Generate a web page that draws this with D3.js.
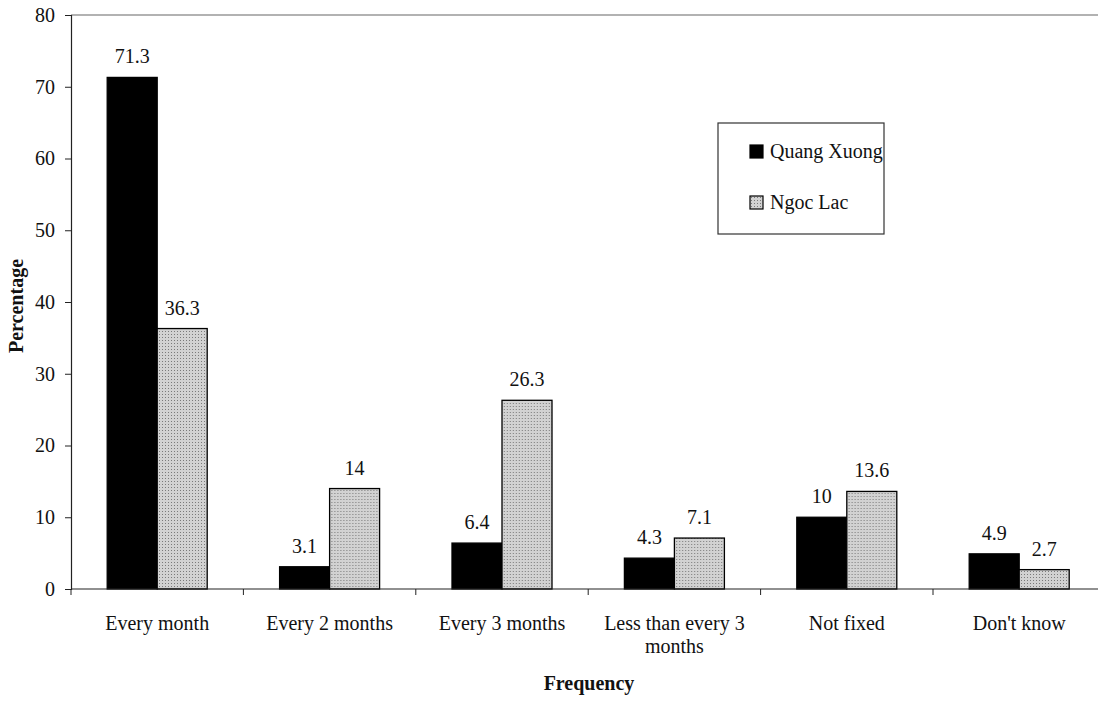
<!DOCTYPE html>
<html>
<head>
<meta charset="utf-8">
<script src="https://cdn.jsdelivr.net/npm/d3@7"></script>
<style>
  body { margin: 0; background: #fff; }
  svg text { font-family: "Liberation Serif", "DejaVu Serif", serif; fill: #111; }
</style>
</head>
<body>
<div id="chart"></div>
<script>
// data
const categories = ["Every month", "Every 2 months", "Every 3 months", "Less than every 3 months", "Not fixed", "Don't know"];
const seriesNames = ["Quang Xuong", "Ngoc Lac"];
const quangXuong = [71.3, 3.1, 6.4, 4.3, 10, 4.9];
const ngocLac = [36.3, 14, 26.3, 7.1, 13.6, 2.7];
const yTicks = [0, 10, 20, 30, 40, 50, 60, 70, 80];

const width = 1098, height = 702;
const margin = { top: 15, left: 71, bottom: 113 };
const plotW = 6 * 172.4;
const innerH = height - margin.top - margin.bottom;

const svg = d3.select("#chart").append("svg")
  .attr("width", width).attr("height", height);

// stippled grey fill for the second series
const defs = svg.append("defs");
const pat = defs.append("pattern").attr("id", "stipple")
  .attr("width", 3).attr("height", 3).attr("patternUnits", "userSpaceOnUse");
pat.append("rect").attr("width", 3).attr("height", 3).attr("fill", "#d2d2d2");
pat.append("rect").attr("x", 1).attr("y", 1).attr("width", 1).attr("height", 1).attr("fill", "#7a7a7a");

const g = svg.append("g").attr("transform", `translate(${margin.left},${margin.top})`);

const x0 = d3.scaleBand().domain(categories).range([0, plotW]).padding(0);
const x1 = d3.scaleBand().domain(seriesNames).range([0, x0.bandwidth()]).paddingInner(0).paddingOuter(0.724);
const y = d3.scaleLinear().domain([0, 80]).range([innerH, 0]);

const fills = { "Quang Xuong": "#000", "Ngoc Lac": "url(#stipple)" };

const rows = categories.map((c, i) => ({ cat: c, vals: [
  { s: "Quang Xuong", v: quangXuong[i] },
  { s: "Ngoc Lac", v: ngocLac[i] }
]}));

// top border line
g.append("line").attr("x1", 0).attr("x2", plotW).attr("y1", 0).attr("y2", 0)
  .attr("stroke", "#666").attr("stroke-width", 1.2);

// bars
const grp = g.selectAll("g.cat").data(rows).join("g")
  .attr("class", "cat")
  .attr("transform", d => `translate(${x0(d.cat)},0)`);

grp.selectAll("rect").data(d => d.vals).join("rect")
  .attr("x", d => x1(d.s))
  .attr("y", d => y(d.v))
  .attr("width", x1.bandwidth())
  .attr("height", d => innerH - y(d.v))
  .attr("fill", d => fills[d.s])
  .attr("stroke", "#000")
  .attr("stroke-width", 1.3);

grp.selectAll("text").data(d => d.vals).join("text")
  .attr("x", d => x1(d.s) + x1.bandwidth() / 2)
  .attr("y", d => y(d.v) - 14)
  .attr("text-anchor", "middle")
  .style("font-size", "20px")
  .text(d => d.v);

// y axis
const yAxis = g.append("g")
  .call(d3.axisLeft(y).tickValues(yTicks).tickSize(6).tickPadding(10));
yAxis.select(".domain").attr("stroke", "#222").attr("stroke-width", 1.2);
yAxis.selectAll(".tick line").attr("stroke", "#222");
yAxis.selectAll("text").style("font-size", "20px").style("font-family", "Liberation Serif").attr("fill", "#111");

// x axis: baseline, ticks on band boundaries, wrapped labels
g.append("line").attr("x1", 0).attr("x2", plotW).attr("y1", innerH).attr("y2", innerH)
  .attr("stroke", "#222").attr("stroke-width", 1.2);
g.selectAll("line.xtick").data(d3.range(categories.length + 1)).join("line")
  .attr("class", "xtick")
  .attr("x1", i => i * x0.step()).attr("x2", i => i * x0.step())
  .attr("y1", innerH).attr("y2", innerH + 6)
  .attr("stroke", "#222");

const xl = g.selectAll("text.xlab").data(categories).join("text")
  .attr("class", "xlab")
  .attr("text-anchor", "middle")
  .attr("transform", d => `translate(${x0(d) + x0.bandwidth() / 2},${innerH + 41})`)
  .style("font-size", "20px");
xl.each(function(d) {
  const lines = d === "Less than every 3 months" ? ["Less than every 3", "months"] : [d];
  d3.select(this).selectAll("tspan").data(lines).join("tspan")
    .attr("x", 0).attr("dy", (l, i) => i === 0 ? 0 : 23).text(l => l);
});

// axis titles
svg.append("text")
  .attr("x", 589).attr("y", 690)
  .attr("text-anchor", "middle")
  .style("font-size", "20px").style("font-weight", "bold")
  .text("Frequency");

svg.append("text")
  .attr("transform", "translate(23,306) rotate(-90)")
  .attr("text-anchor", "middle")
  .style("font-size", "20px").style("font-weight", "bold")
  .text("Percentage");

// legend
const leg = svg.append("g").attr("transform", "translate(718,123)");
leg.append("rect").attr("width", 166).attr("height", 111)
  .attr("fill", "#fff").attr("stroke", "#333").attr("stroke-width", 1.2);
const li = leg.selectAll("g.item").data(seriesNames).join("g")
  .attr("class", "item")
  .attr("transform", (d, i) => `translate(32,${22 + i * 51})`);
li.append("rect").attr("width", 13).attr("height", 13)
  .attr("fill", d => fills[d]).attr("stroke", "#000").attr("stroke-width", 1.2);
li.append("text").attr("x", 20).attr("y", 13)
  .style("font-size", "20px").text(d => d);
</script>
</body>
</html>
